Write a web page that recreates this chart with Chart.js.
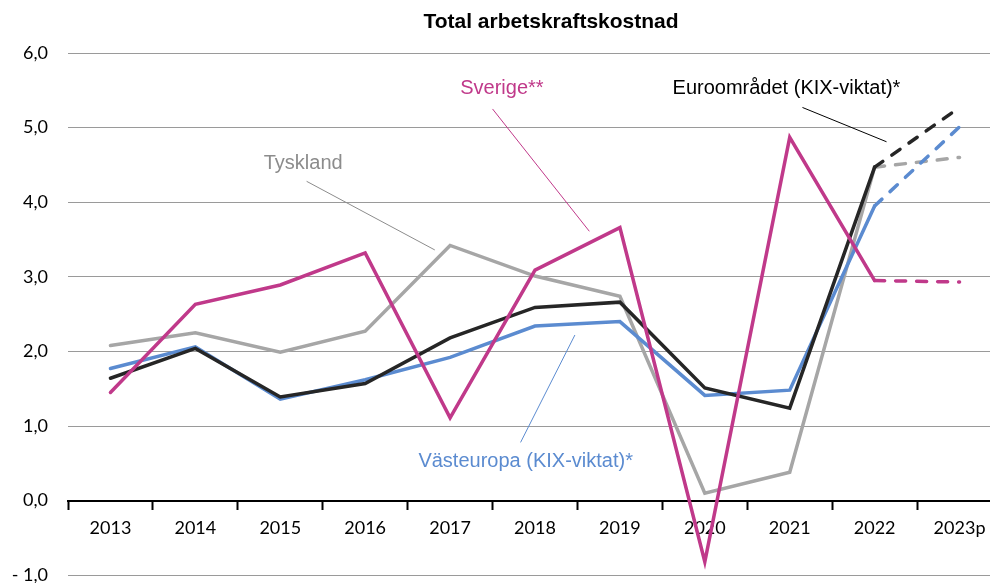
<!DOCTYPE html>
<html>
<head>
<meta charset="utf-8">
<script src="https://cdn.jsdelivr.net/npm/chart.js@4/dist/chart.umd.min.js"></script>
<style>
    html, body { margin: 0; padding: 0; background: #fff; overflow: hidden; }
    #chartBox { width: 990px; height: 583px; overflow: hidden; }
</style>
</head>
<body>
<div id="chartBox">
    <canvas id="chart" width="1003" height="606"></canvas>
</div>
<script>
// Categories
const years = ["2013", "2014", "2015", "2016", "2017", "2018", "2019", "2020", "2021", "2022", "2023p"];

// Series values (percent), last point is the forecast
const sverige = [1.45, 2.63, 2.89, 3.32, 1.11, 3.09, 3.66, -0.82, 4.87, 2.95, 2.93];
const euroomradet = [1.64, 2.04, 1.39, 1.57, 2.18, 2.59, 2.66, 1.51, 1.24, 4.47, 5.27];
const vasteuropa = [1.77, 2.06, 1.36, 1.62, 1.92, 2.34, 2.40, 1.41, 1.48, 3.95, 5.01];
const tyskland = [2.08, 2.25, 1.99, 2.27, 3.42, 3.01, 2.74, 0.10, 0.38, 4.47, 4.60];

// Y tick values
const yTicks = [-1, 0, 1, 2, 3, 4, 5, 6];

const title = "Total arbetskraftskostnad";

// Series labels with leader lines (x = category index, y = value)
const labels = [
    { text: "Sverige**", color: "#c0398a", align: "center", at: [4.61, 5.53], line: [[4.50, 5.25], [5.64, 3.61]] },
    { text: "Tyskland", color: "#8c8c8c", align: "center", at: [2.27, 4.52], line: [[2.31, 4.28], [3.82, 3.36]] },
    { text: "Euroområdet (KIX-viktat)*", color: "#000000", align: "left", at: [6.62, 5.53], line: [[8.15, 5.27], [9.14, 4.81]] },
    { text: "Västeuropa (KIX-viktat)*", color: "#5b8bd0", align: "center", at: [4.89, 0.52], line: [[4.83, 0.78], [5.47, 2.22]] }
];

// Last segment is a forecast -> dashed
const forecastDash = (ctx) => ctx.p1DataIndex === years.length - 1 ? [10, 11] : undefined;

function makeSeries(label, data, color) {
    return {
        label: label,
        data: data,
        borderColor: color,
        backgroundColor: color,
        borderWidth: 3.5,
        pointRadius: 0,
        tension: 0,
        borderCapStyle: "round",
        segment: { borderDash: forecastDash }
    };
}

// Draws title and series labels
const labelPlugin = {
    id: "seriesLabels",
    afterDatasetsDraw(chart) {
        const c = chart.ctx;
        const xs = chart.scales.x;
        const ys = chart.scales.y;
        const px = (i) => xs.getPixelForValue(i);
        const py = (v) => ys.getPixelForValue(v);

        c.save();
        c.fillStyle = "#000";
        c.font = "bold 21px 'Liberation Sans', Arial, sans-serif";
        c.textAlign = "center";
        c.textBaseline = "middle";
        c.fillText(title, 551, 22);

        c.font = "20px 'Liberation Sans', Arial, sans-serif";
        labels.forEach((l) => {
            c.strokeStyle = l.color;
            c.lineWidth = 1;
            c.beginPath();
            c.moveTo(px(l.line[0][0]), py(l.line[0][1]));
            c.lineTo(px(l.line[1][0]), py(l.line[1][1]));
            c.stroke();

            c.fillStyle = l.color;
            c.textAlign = l.align;
            c.fillText(l.text, px(l.at[0]), py(l.at[1]));
        });
        c.restore();
    }
};

const ctx = document.getElementById("chart");
new Chart(ctx, {
    type: "line",
    data: {
        labels: years,
        datasets: [
            makeSeries("Sverige**", sverige, "#c0398a"),
            makeSeries("Euroområdet (KIX-viktat)*", euroomradet, "#262626"),
            makeSeries("Västeuropa (KIX-viktat)*", vasteuropa, "#5b8bd0"),
            makeSeries("Tyskland", tyskland, "#a6a6a6")
        ]
    },
    options: {
        responsive: false,
        animation: false,
        layout: { padding: { top: 53, bottom: 6, right: 1, left: 0 } },
        plugins: {
            legend: { display: false },
            title: { display: false },
            tooltip: { enabled: false }
        },
        scales: {
            x: {
                type: "category",
                position: { y: 0 },
                offset: true,
                grid: {
                    offset: true,
                    drawOnChartArea: false,
                    drawTicks: true,
                    tickLength: 8,
                    tickWidth: 2,
                    tickColor: "#000"
                },
                border: { display: true, color: "#000", width: 2 },
                ticks: {
                    color: "#000",
                    padding: 9,
                    maxRotation: 0,
                    autoSkip: false,
                    font: { family: "Lato, 'Open Sans', sans-serif", size: 18 }
                }
            },
            y: {
                min: -1,
                max: 6,
                afterFit(scale) { scale.width = 68; },
                afterBuildTicks(scale) { scale.ticks = yTicks.map((v) => ({ value: v })); },
                grid: { color: "#9a9a9a", lineWidth: 1, drawTicks: false },
                border: { display: false },
                ticks: {
                    color: "#000",
                    padding: 20,
                    font: { family: "Lato, 'Open Sans', sans-serif", size: 18 },
                    callback: (v) => (v < 0 ? "- " + Math.abs(v).toFixed(1) : v.toFixed(1)).replace(".", ",")
                }
            }
        }
    },
    plugins: [labelPlugin]
});
</script>
</body>
</html>
